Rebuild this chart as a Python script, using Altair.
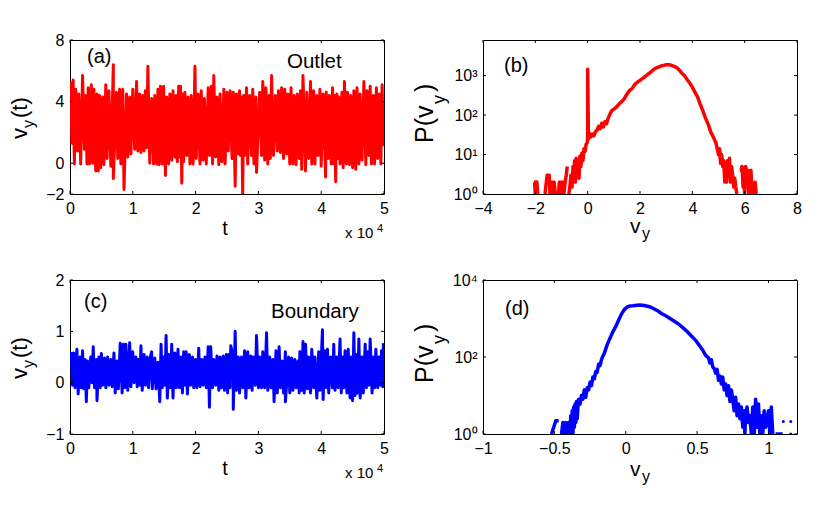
import altair as alt
import pandas as pd

FONT = "Liberation Sans"
W, H = 314, 154

# panel (a): peaks and dips of the outlet series, t in units of 10^4
a_peak_t = [0.01, 0.05, 0.09, 0.14, 0.20, 0.25, 0.29, 0.34, 0.38, 0.43, 0.47, 0.52, 0.57, 0.62, 0.69, 0.74, 0.79, 0.84, 0.90, 0.95,
            1.00, 1.06, 1.11, 1.16, 1.20, 1.24, 1.30, 1.35, 1.40, 1.44, 1.49, 1.54, 1.59, 1.64, 1.69, 1.73, 1.76, 1.83, 1.88, 1.93,
            1.99, 2.04, 2.09, 2.14, 2.20, 2.25, 2.29, 2.34, 2.39, 2.45, 2.50, 2.55, 2.60, 2.65, 2.70, 2.73, 2.81, 2.86, 2.91, 2.96,
            3.02, 3.07, 3.12, 3.17, 3.21, 3.27, 3.32, 3.37, 3.42, 3.47, 3.52, 3.57, 3.62, 3.67, 3.71, 3.77, 3.83, 3.88, 3.93, 3.98,
            4.03, 4.08, 4.13, 4.18, 4.25, 4.28, 4.33, 4.37, 4.42, 4.47, 4.52, 4.57, 4.62, 4.68, 4.73, 4.78, 4.83, 4.88, 4.93, 4.97, 5.00,
            1.80, 2.765, 4.215]
a_peak_v = [5.3, 5.4, 4.8, 4.5, 5.7, 4.4, 4.9, 5.1, 4.8, 4.5, 4.4, 4.3, 5.1, 4.7, 6.4, 4.6, 4.8, 4.8, 4.5, 4.3,
            4.8, 5.3, 4.5, 4.4, 4.7, 6.3, 4.2, 4.4, 4.8, 5.0, 5.0, 4.3, 4.5, 4.7, 4.4, 5.0, 5.0, 4.6, 4.3, 4.4,
            6.3, 4.5, 4.7, 4.2, 4.9, 5.0, 5.7, 4.3, 4.5, 4.8, 4.6, 4.7, 4.6, 4.5, 4.7, 4.3, 4.9, 4.4, 4.8, 4.3,
            4.6, 5.3, 4.9, 4.4, 5.7, 4.4, 4.7, 4.9, 4.8, 4.5, 4.9, 4.4, 4.5, 4.7, 5.7, 4.6, 5.3, 4.7, 4.4, 4.8,
            4.5, 4.6, 4.4, 4.9, 4.5, 4.3, 4.6, 5.3, 4.6, 4.4, 4.7, 4.9, 4.5, 5.3, 4.7, 5.0, 4.4, 4.9, 4.5, 5.1, 3.9,
            4.5, 4.4, 4.4]
a_dip_t = [0.03, 0.07, 0.12, 0.17, 0.23, 0.27, 0.31, 0.36, 0.41, 0.45, 0.49, 0.54, 0.59, 0.65, 0.69, 0.76, 0.81, 0.86, 0.92, 0.97,
           1.03, 1.08, 1.13, 1.18, 1.22, 1.27, 1.33, 1.38, 1.42, 1.47, 1.52, 1.57, 1.62, 1.67, 1.71, 1.78, 1.81, 1.86, 1.91, 1.96,
           2.01, 2.07, 2.12, 2.17, 2.22, 2.27, 2.32, 2.37, 2.42, 2.47, 2.52, 2.58, 2.63, 2.68, 2.75, 2.78, 2.83, 2.89, 2.93, 2.97,
           3.05, 3.10, 3.15, 3.19, 3.24, 3.30, 3.35, 3.40, 3.45, 3.50, 3.55, 3.60, 3.65, 3.69, 3.75, 3.80, 3.85, 3.90, 3.95, 4.00,
           4.07, 4.11, 4.16, 4.20, 4.23, 4.30, 4.35, 4.40, 4.45, 4.50, 4.55, 4.60, 4.65, 4.71, 4.76, 4.80, 4.85, 4.90, 4.95, 4.99,
           1.75, 2.715, 4.265]
a_dip_v = [1.3, -0.05, 0.8, -0.05, 0.9, -0.05, -0.05, 0.0, -0.5, -0.5, -0.3, -0.1, 0.3, -0.2, -1.0, 0.3, -0.05, -1.7, 0.4, 0.6,
           0.9, 0.8, 0.7, 0.8, 1.0, 0.0, -0.05, -0.05, -0.1, -0.05, -0.8, -0.05, 0.2, 0.4, 0.1, -1.3, 0.1, 0.5, -0.05, -0.05,
           0.3, -0.05, 0.2, -0.05, 0.5, -0.05, 0.4, -0.1, 0.1, -0.05, 0.8, 0.3, -1.5, 0.6, -2.1, 0.5, -0.05, 0.5, -0.05, -0.6,
           0.5, 0.2, -0.05, 0.3, 0.5, 0.8, 0.7, 0.3, 0.6, -0.05, -0.05, -0.1, 0.3, -0.4, -0.5, 0.3, -0.05, -0.05, 0.5, -0.2,
           -0.9, 0.3, -0.05, -0.05, -1.2, -0.05, -0.3, -0.05, -0.1, -0.3, -0.4, -0.05, 0.2, -0.1, 0.5, -0.05, -0.05, 0.3, -0.05, 1.2,
           0.4, 0.5, 0.3]

# panel (c): peaks and dips of the boundary series
c_peak_t = [0.02, 0.06, 0.11, 0.16, 0.20, 0.24, 0.28, 0.33, 0.37, 0.42, 0.46, 0.50, 0.55, 0.60, 0.65, 0.70, 0.75, 0.80, 0.85, 0.89, 0.95,
            1.00, 1.05, 1.09, 1.13, 1.18, 1.23, 1.28, 1.30, 1.35, 1.40, 1.45, 1.49, 1.53, 1.58, 1.62, 1.67, 1.72, 1.77, 1.81, 1.85, 1.90, 1.95,
            2.00, 2.05, 2.10, 2.15, 2.20, 2.24, 2.29, 2.34, 2.39, 2.44, 2.49, 2.53, 2.56, 2.60, 2.63, 2.68, 2.73, 2.78, 2.83, 2.88, 2.92, 2.97,
            3.02, 3.07, 3.13, 3.18, 3.23, 3.28, 3.33, 3.38, 3.43, 3.48, 3.53, 3.58, 3.63, 3.66, 3.71, 3.75, 3.80, 3.85, 3.90, 3.96,
            4.02, 4.06, 4.10, 4.15, 4.20, 4.25, 4.30, 4.34, 4.38, 4.43, 4.48, 4.52, 4.56, 4.60, 4.65, 4.70, 4.74, 4.78, 4.83, 4.87, 4.92, 4.96, 4.99]
c_peak_v = [0.60, 0.58, 0.65, 0.50, 0.62, 0.45, 0.42, 0.50, 0.70, 0.45, 0.50, 0.57, 0.48, 0.50, 0.45, 0.58, 0.42, 0.77, 0.75, 0.75, 0.78,
            0.60, 0.50, 0.45, 0.72, 0.55, 0.50, 0.50, 0.60, 0.48, 0.40, 0.75, 0.50, 0.92, 0.55, 0.75, 0.58, 0.65, 0.50, 0.60, 0.60, 0.55, 0.50,
            0.45, 0.67, 0.45, 0.50, 0.70, 0.70, 0.45, 0.52, 0.50, 0.52, 0.55, 0.55, 0.72, 0.50, 1.00, 0.50, 0.50, 0.62, 0.60, 0.52, 0.50, 0.92,
            0.50, 0.60, 0.97, 0.50, 0.45, 0.62, 0.70, 0.42, 0.60, 0.50, 0.48, 0.45, 0.42, 0.60, 0.80, 0.75, 0.50, 0.65, 0.50, 0.60,
            1.03, 0.62, 0.65, 0.50, 0.75, 0.50, 0.85, 0.50, 0.62, 0.65, 0.50, 0.97, 0.55, 0.85, 0.50, 0.75, 0.60, 0.85, 0.50, 0.65, 0.50, 0.62, 0.77]
c_dip_t = [0.04, 0.08, 0.13, 0.18, 0.22, 0.26, 0.30, 0.35, 0.39, 0.43, 0.48, 0.52, 0.57, 0.62, 0.67, 0.72, 0.77, 0.83, 0.87, 0.92, 0.97,
           1.02, 1.07, 1.11, 1.15, 1.20, 1.25, 1.31, 1.37, 1.43, 1.47, 1.51, 1.55, 1.60, 1.64, 1.69, 1.74, 1.79, 1.83, 1.87, 1.92, 1.97,
           2.02, 2.07, 2.12, 2.17, 2.22, 2.27, 2.32, 2.37, 2.41, 2.46, 2.51, 2.55, 2.60, 2.65, 2.70, 2.75, 2.80, 2.85, 2.90, 2.95,
           3.00, 3.05, 3.10, 3.15, 3.20, 3.25, 3.30, 3.35, 3.40, 3.43, 3.50, 3.55, 3.60, 3.65, 3.69, 3.73, 3.78, 3.83, 3.88, 3.93, 3.98,
           4.03, 4.08, 4.12, 4.18, 4.22, 4.27, 4.32, 4.36, 4.41, 4.46, 4.50, 4.54, 4.58, 4.62, 4.67, 4.72, 4.76, 4.81, 4.85, 4.90, 4.94, 4.98]
c_dip_v = [-0.05, -0.10, -0.22, -0.10, -0.12, -0.37, -0.10, 0.00, -0.10, -0.35, -0.10, -0.05, -0.10, -0.05, -0.08, -0.20, -0.12, -0.20, -0.10, -0.15, -0.08,
           0.00, -0.08, -0.05, -0.15, -0.05, -0.10, -0.12, -0.12, -0.37, -0.10, -0.05, -0.30, -0.10, -0.30, -0.10, -0.10, -0.20, -0.05, -0.22, -0.05, -0.10,
           -0.10, -0.08, -0.05, -0.10, -0.48, -0.10, -0.05, -0.15, -0.10, -0.15, -0.20, -0.10, -0.52, -0.15, -0.20, -0.10, -0.30, -0.10, -0.15, -0.05,
           -0.10, -0.10, -0.10, -0.15, -0.10, -0.37, -0.20, -0.10, -0.20, -0.37, -0.20, -0.15, -0.10, -0.20, -0.15, -0.20, -0.12, -0.20, -0.10, -0.30, -0.15,
           -0.33, -0.10, -0.20, -0.10, -0.15, -0.10, -0.20, -0.10, -0.20, -0.30, -0.35, -0.25, -0.20, -0.30, -0.20, -0.10, -0.05, -0.20, -0.10, -0.10, -0.05, -0.08]

# panel (b): histogram of vy at the outlet, None where the count is empty
b_x = [-2.05, -2.03, -2.00, -1.97, -1.94, -1.91, None,
       -1.63, -1.58, -1.55, -1.50, -1.47, -1.44, -1.40, -1.36, -1.32, -1.28, -1.24, None,
       -1.12, -1.08, -1.05, -1.01, -0.98, -0.94, -0.91, -0.86, -0.82, -0.78, None,
       -0.72, -0.68, -0.64, -0.60, -0.56, -0.53, -0.50, -0.47, -0.44, -0.40, -0.37, -0.33, -0.30, -0.26, -0.22, -0.18, -0.14, -0.10, -0.06, -0.02,
       0.0, 0.0, 0.03, 0.07, 0.12, 0.18, 0.24, 0.30, 0.36, 0.42, 0.48, 0.54, 0.60, 0.66, 0.72, 0.78, 0.85, 0.92, 1.0, 1.1, 1.2, 1.3, 1.4, 1.5,
       1.6, 1.7, 1.8, 1.9, 2.0, 2.1, 2.2, 2.3, 2.4, 2.5, 2.6, 2.7, 2.8, 2.9, 3.0, 3.1, 3.2, 3.3, 3.4, 3.5, 3.6, 3.7, 3.8, 3.9, 4.0, 4.1, 4.2,
       4.3, 4.4, 4.5, 4.6, 4.7, 4.8, 4.9, 5.0, 5.04, 5.08, 5.12, 5.16, 5.20, 5.24, 5.28, 5.31, 5.34, 5.38, 5.42, 5.46, 5.50, 5.54, 5.58, 5.62, 5.66, 5.70, 5.74, None,
       5.82, 5.86, 5.90, 5.94, 5.97, 6.00, 6.04, 6.08, 6.12, 6.16, 6.20, 6.24, 6.28, 6.32, 6.37, 6.40, 6.44]
b_y = [2, 2, 1, 2, 2, 1, None,
       1, 2, 3, 3, 3, 1, 1, 2, 1, 2, 1, None,
       1, 2, 1, 2, 1, 2, 1, 2, 3, 5, None,
       1, 1.5, 3, 1.5, 5, 3, 7, 2, 8, 3, 6, 2.5, 9, 5, 11, 7, 14, 12, 18, 20,
       25, 1450, 25, 34, 28, 33, 30, 38, 42, 52, 45, 62, 50, 68, 60, 82, 105, 130, 142, 160, 190, 220, 260, 340,
       420, 470, 600, 680, 760, 850, 950, 1080, 1200, 1400, 1550, 1650, 1750, 1820, 1880, 1900, 1830, 1720, 1600, 1380, 1150, 1000, 800, 650, 510, 380, 290,
       190, 130, 85, 60, 38, 28, 20, 10, 14, 6, 10, 5, 7, 2, 6, 2, 7, 3, 8, 2, 5, 3, 1.5, 2.5, 1.5, 1, 1, None,
       4, 4, 5, 1.5, 3, 1, 5, 2, 4, 1, 1.5, 4, 1, 1, 1, 2, 1]

# panel (d): histogram of vy at the boundary
d_x = [-0.52, -0.49, -0.47, None,
       -0.45, -0.44, -0.43, -0.42, -0.41, -0.40, -0.39, -0.385, -0.38, -0.375, -0.37, -0.365, -0.36, -0.355, -0.35, -0.345, -0.34, -0.335, -0.33, -0.32, -0.31, -0.30,
       -0.29, -0.28, -0.27, -0.26, -0.25, -0.24, -0.23, -0.22, -0.21, -0.20, -0.19, -0.18, -0.17, -0.16, -0.15, -0.13, -0.11, -0.09, -0.07, -0.05, -0.03, -0.01,
       0.01, 0.03, 0.05, 0.08, 0.10, 0.13, 0.16, 0.19, 0.22, 0.25, 0.28, 0.31, 0.34, 0.37, 0.40, 0.43, 0.46, 0.49, 0.52, 0.54, 0.56, 0.58, 0.59, 0.60, 0.61, 0.62,
       0.63, 0.64, 0.65, 0.66, 0.67, 0.68, 0.69, 0.70, 0.71, 0.72, 0.73, 0.74, 0.75, 0.76, 0.77, 0.78, 0.79, 0.80, 0.81, 0.82, 0.83, 0.835, 0.84, 0.85, 0.86, 0.87, 0.88,
       0.89, 0.90, 0.91, 0.92, 0.93, 0.94, 0.95, 0.96, 0.97, 0.98, 0.99, 1.00, 1.01, 1.02, 1.03, None,
       1.05, 1.07, 1.10, None]
d_y = [1, 2.2, 2.2, None,
       1, 2, 1, 2, 1, 2, 1, 3, 1, 4, 1, 5, 1.5, 6, 2, 7, 2.5, 5, 8, 6, 10, 8,
       14, 9, 16, 14, 22, 18, 30, 27, 42, 40, 65, 60, 85, 105, 125, 210, 310, 450, 620, 900, 1300, 1700,
       2000, 2120, 2150, 2220, 2250, 2180, 2050, 1850, 1620, 1350, 1180, 1000, 850, 720, 580, 460, 350, 270, 190, 150, 110, 95, 70, 85, 55, 50,
       38, 48, 25, 32, 20, 30, 14, 20, 10, 18, 7, 14, 8, 4, 9, 3, 6, 2.5, 5, 1.5, 4, 1, 3, 5, 2, 3, 1,
       5, 1, 8, 1.5, 6, 1, 3, 1, 4, 1.5, 2, 4, 1, 5, 1, None,
       1, 1, 1, None]
d_dot_x = [1.104, 1.156, 1.156]
d_dot_y = [2.1, 2.1, 1]


def text(label, x, y, size=17, angle=0, align="left"):
    return (
        alt.Chart(pd.DataFrame({"a": [0]}))
        .mark_text(text=label, font=FONT, fontSize=size, angle=angle, align=align, baseline="alphabetic", color="black")
        .encode(x=alt.value(x), y=alt.value(y))
    )


def panel(df, color, xticks, yticks, xscale, yscale, labels, yaxis=None, width=3):
    x_enc = alt.X("x:Q", scale=xscale, axis=alt.Axis(values=xticks, format="~g", title=None, grid=False, domain=False, ticks=False,
                                                     labelFont=FONT, labelFontSize=16, labelColor="black", labelPadding=6, labelFlush=False, labelOverlap=False))
    axis_args = dict(values=yticks, title=None, grid=False, domain=False, ticks=False, labelFont=FONT, labelFontSize=16,
                     labelColor="black", labelPadding=6, labelFlush=False, labelOverlap=False)
    if yaxis:
        axis_args["labelExpr"] = yaxis
    else:
        axis_args["format"] = "~g"
    y_enc = alt.Y("y:Q", scale=yscale, axis=alt.Axis(**axis_args))
    line = alt.Chart(df).mark_line(color=color, strokeWidth=width, clip=True, strokeJoin="round").encode(x=x_enc, y=y_enc, order="o:Q")

    # inward ticks on all four sides
    xt = alt.Chart(pd.DataFrame({"x": xticks}))
    yt = alt.Chart(pd.DataFrame({"y": yticks}))
    ticks = [
        xt.mark_rule(color="black").encode(x=x_enc, y=alt.value(H), y2=alt.value(H - 3)),
        xt.mark_rule(color="black").encode(x=x_enc, y=alt.value(0), y2=alt.value(3)),
        yt.mark_rule(color="black").encode(y=y_enc, x=alt.value(0), x2=alt.value(3)),
        yt.mark_rule(color="black").encode(y=y_enc, x=alt.value(W), x2=alt.value(W - 3)),
    ]
    return [line] + ticks + labels


def series(t1, v1, t2, v2):
    df = pd.DataFrame({"x": t1 + t2, "y": v1 + v2}).sort_values("x").reset_index(drop=True)
    df["o"] = range(len(df))
    return df


def histogram(x, y):
    df = pd.DataFrame({"x": x, "y": y}, dtype=float)
    df["o"] = range(len(df))
    return df


log_labels = "['10⁰','10¹','10²','10³','10⁴'][round(log(datum.value)/LN10)]"
time_x = alt.Scale(domain=[0, 5], nice=False, zero=False)

a = alt.layer(*panel(
    series(a_peak_t, a_peak_v, a_dip_t, a_dip_v), "#ff0000", [0, 1, 2, 3, 4, 5], [-2, 0, 4, 8],
    time_x, alt.Scale(domain=[-2, 8], nice=False, zero=False),
    [text("(a)", 17, 23, 20), text("Outlet", 217, 28, 20.5),
     text("v", -43, 99, 22, 270), text("y", -36, 88, 16, 270), text("(t)", -43, 78, 22, 270),
     text("t", 155, 195, 20, align="center"),
     text("x 10", 275, 198, 15), text("4", 307, 192, 11)],
)).properties(width=W, height=H)

b = alt.layer(*panel(
    histogram(b_x, b_y), "#ff0000", [-4, -2, 0, 2, 4, 6, 8], [1, 10, 100, 1000],
    alt.Scale(domain=[-4, 8], nice=False, zero=False), alt.Scale(type="log", domain=[1, 8000], nice=False),
    [text("(b)", 21, 32, 20),
     text("P(v", -50, 103, 25, 270), text("y", -38, 64, 18, 270), text(")", -50, 52, 25, 270),
     text("v", 147, 193, 21), text("y", 159, 199, 16)],
    log_labels, 3.5,
)).properties(width=W, height=H)

c = alt.layer(*panel(
    series(c_peak_t, c_peak_v, c_dip_t, c_dip_v), "#0000ff", [0, 1, 2, 3, 4, 5], [-1, 0, 1, 2],
    time_x, alt.Scale(domain=[-1, 2], nice=False, zero=False),
    [text("(c)", 14, 28, 20), text("Boundary", 201, 38, 20.5),
     text("v", -43, 99, 22, 270), text("y", -36, 88, 16, 270), text("(t)", -43, 78, 22, 270),
     text("t", 155, 195, 20, align="center"),
     text("x 10", 275, 198, 15), text("4", 307, 192, 11)],
)).properties(width=W, height=H)

d_line = panel(
    histogram(d_x, d_y), "#0000ff", [-1, -0.5, 0, 0.5, 1], [1, 100, 10000],
    alt.Scale(domain=[-1, 1.2], nice=False, zero=False), alt.Scale(type="log", domain=[1, 10000], nice=False),
    [text("(d)", 22, 35, 20),
     text("P(v", -50, 103, 25, 270), text("y", -38, 64, 18, 270), text(")", -50, 52, 25, 270),
     text("v", 147, 196, 21), text("y", 159, 202, 16)],
    log_labels, 3.5,
)
d_dots = alt.Chart(pd.DataFrame({"x": d_dot_x, "y": d_dot_y})).mark_circle(color="#0000ff", size=9, opacity=1, clip=True).encode(
    x=alt.X("x:Q", scale=alt.Scale(domain=[-1, 1.2], nice=False, zero=False)),
    y=alt.Y("y:Q", scale=alt.Scale(type="log", domain=[1, 10000], nice=False)),
)
d = alt.layer(*d_line, d_dots).properties(width=W, height=H)

chart = (
    alt.concat(a, b, c, d, columns=2, spacing={"row": 86, "column": 99}, bounds="flush")
    .configure_view(stroke="black", strokeWidth=1)
    .properties(padding={"left": 0, "top": 23, "right": 5, "bottom": 5})
)

chart.save("out.html", embed_options={"renderer": "svg", "actions": False})
